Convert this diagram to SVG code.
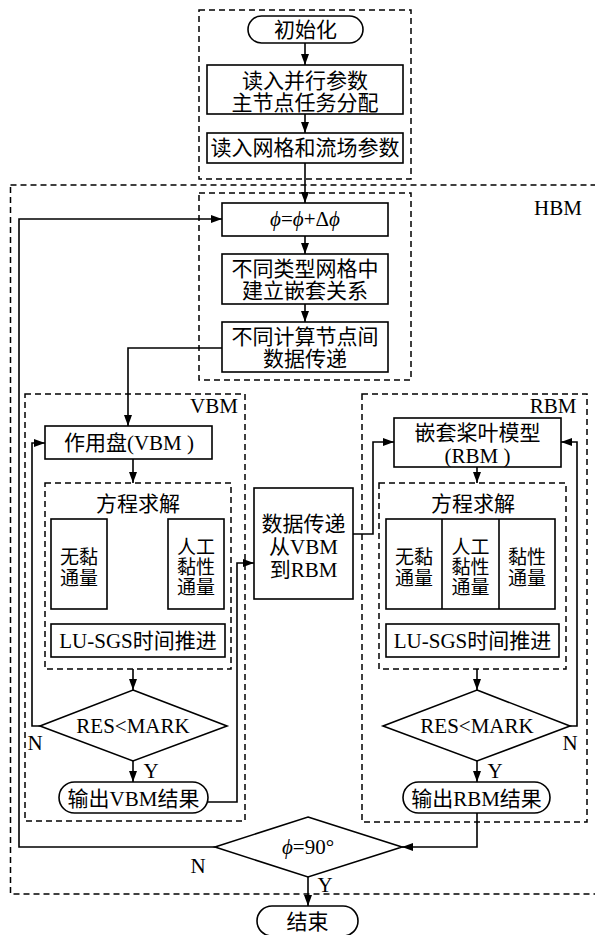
<svg xmlns="http://www.w3.org/2000/svg" width="595" height="935" viewBox="0 0 595 935">
<style>
text{font-family:"Liberation Serif","Noto Sans CJK SC",serif;font-size:21px;fill:#000;text-anchor:middle}
.f{font-size:19px}
.s{fill:#fff;stroke:#000;stroke-width:1.6}
.d{fill:none;stroke:#000;stroke-width:1.5;stroke-dasharray:6 4}
.c{fill:none;stroke:#000;stroke-width:1.6}
</style>
<defs>
<marker id="ar" markerUnits="userSpaceOnUse" markerWidth="12" markerHeight="8" refX="11" refY="4" orient="auto">
<path d="M0,0 L11,4 L0,8 z" fill="#000"/>
</marker>
</defs>
<g id="frames">
<rect class="d" x="199" y="10" width="212" height="169"/>
<rect class="d" x="10.5" y="185" width="600" height="709"/>
<rect class="d" x="199" y="193" width="212" height="187"/>
<rect class="d" x="25" y="394" width="220" height="427"/>
<rect class="d" x="45" y="483" width="186" height="186"/>
<rect class="d" x="362" y="394" width="225" height="428"/>
<rect class="d" x="379" y="483" width="187" height="186"/>
<text x="558" y="215">HBM</text>
<text x="214" y="413">VBM</text>
<text x="553" y="413">RBM</text>
<text x="138" y="511">方程求解</text>
<text x="473" y="511">方程求解</text>
</g>
<g id="connectors">
<path class="c" d="M305,43 V65" marker-end="url(#ar)"/>
<path class="c" d="M305,114 V133" marker-end="url(#ar)"/>
<path class="c" d="M305,163 V203" marker-end="url(#ar)"/>
<path class="c" d="M305,236 V254" marker-end="url(#ar)"/>
<path class="c" d="M305,304 V322" marker-end="url(#ar)"/>
<path class="c" d="M222,348 H128 V426" marker-end="url(#ar)"/>
<path class="c" d="M133,459 V483" marker-end="url(#ar)"/>
<path class="c" d="M133,669 V690" marker-end="url(#ar)"/>
<path class="c" d="M133,761 V782" marker-end="url(#ar)"/>
<path class="c" d="M40,726 H32 V443 H45" marker-end="url(#ar)"/>
<path class="c" d="M208,802 H237 V563 H254" marker-end="url(#ar)"/>
<path class="c" d="M353,534 H373 V442 H394" marker-end="url(#ar)"/>
<path class="c" d="M477,467 V483" marker-end="url(#ar)"/>
<path class="c" d="M477,669 V690" marker-end="url(#ar)"/>
<path class="c" d="M477,761 V782" marker-end="url(#ar)"/>
<path class="c" d="M570,726 H577 V442 H561" marker-end="url(#ar)"/>
<path class="c" d="M477,813 V847 H402" marker-end="url(#ar)"/>
<path class="c" d="M308,877 V906" marker-end="url(#ar)"/>
<path class="c" d="M215,847 H19 V219 H222" marker-end="url(#ar)"/>
<text x="35" y="750">N</text>
<text x="151" y="778">Y</text>
<text x="570" y="750">N</text>
<text x="495" y="778">Y</text>
<text x="198" y="873">N</text>
<text x="325" y="892">Y</text>
</g>
<g id="start">
<rect class="s" x="248" y="16" width="115" height="27" rx="13.5"/>
<text x="305.5" y="37">初始化</text>
</g>
<g id="readParallel">
<rect class="s" x="207" y="65" width="196" height="49"/>
<text x="305" y="88">读入并行参数</text>
<text x="305" y="110">主节点任务分配</text>
</g>
<g id="readGrid">
<rect class="s" x="207" y="133" width="196" height="30"/>
<text x="305" y="155">读入网格和流场参数</text>
</g>
<g id="phiUpdate">
<rect class="s" x="222" y="203" width="166" height="33"/>
<text x="305" y="226"><tspan font-style="italic">ϕ</tspan>=<tspan font-style="italic">ϕ</tspan>+Δ<tspan font-style="italic">ϕ</tspan></text>
</g>
<g id="nesting">
<rect class="s" x="222" y="254" width="166" height="50"/>
<text x="305" y="276">不同类型网格中</text>
<text x="305" y="298">建立嵌套关系</text>
</g>
<g id="transfer">
<rect class="s" x="222" y="322" width="166" height="50"/>
<text x="305" y="344">不同计算节点间</text>
<text x="305" y="366">数据传递</text>
</g>
<g id="vbmDisk">
<rect class="s" x="45" y="426" width="167" height="33"/>
<text x="129" y="450">作用盘(VBM )</text>
</g>
<g id="vbmInviscid">
<rect class="s" x="51" y="519" width="56" height="90"/>
<text class="f" x="79" y="564">无黏</text>
<text class="f" x="79" y="585">通量</text>
</g>
<g id="vbmArtificial">
<rect class="s" x="168" y="519" width="56" height="90"/>
<text class="f" x="196" y="554">人工</text>
<text class="f" x="196" y="574">黏性</text>
<text class="f" x="196" y="594">通量</text>
</g>
<g id="vbmLUSGS">
<rect class="s" x="51" y="624" width="174" height="33"/>
<text x="138" y="648">LU-SGS时间推进</text>
</g>
<g id="vbmCheck">
<polygon class="s" points="133,690 227,726 133,761 40,726"/>
<text x="133" y="733">RES&lt;MARK</text>
</g>
<g id="vbmOut">
<rect class="s" x="59" y="782" width="149" height="31" rx="15.5"/>
<text x="133.5" y="806">输出VBM结果</text>
</g>
<g id="dataVR">
<rect class="s" x="254" y="488" width="99" height="111"/>
<text x="303.5" y="531">数据传递</text>
<text x="303.5" y="554">从VBM</text>
<text x="303.5" y="577">到RBM</text>
</g>
<g id="rbmModel">
<rect class="s" x="394" y="418" width="167" height="49"/>
<text x="477.5" y="440">嵌套桨叶模型</text>
<text x="477.5" y="463">(RBM )</text>
</g>
<g id="rbmFlux">
<rect class="s" x="386" y="519" width="169" height="90"/>
<line class="c" x1="442" y1="519" x2="442" y2="609"/>
<line class="c" x1="499" y1="519" x2="499" y2="609"/>
<text class="f" x="414" y="564">无黏</text>
<text class="f" x="414" y="585">通量</text>
<text class="f" x="470.5" y="554">人工</text>
<text class="f" x="470.5" y="574">黏性</text>
<text class="f" x="470.5" y="594">通量</text>
<text class="f" x="527" y="564">黏性</text>
<text class="f" x="527" y="585">通量</text>
</g>
<g id="rbmLUSGS">
<rect class="s" x="386" y="624" width="173" height="33"/>
<text x="472.5" y="648">LU-SGS时间推进</text>
</g>
<g id="rbmCheck">
<polygon class="s" points="477,690 570,726 477,761 383,726"/>
<text x="477" y="733">RES&lt;MARK</text>
</g>
<g id="rbmOut">
<rect class="s" x="403" y="782" width="147" height="31" rx="15.5"/>
<text x="476.5" y="806">输出RBM结果</text>
</g>
<g id="phiCheck">
<polygon class="s" points="308,817 402,847 308,877 215,847"/>
<text x="308" y="854"><tspan font-style="italic">ϕ</tspan>=90°</text>
</g>
<g id="end">
<rect class="s" x="257" y="906" width="101" height="30" rx="15"/>
<text x="307.5" y="929">结束</text>
</g>
</svg>
